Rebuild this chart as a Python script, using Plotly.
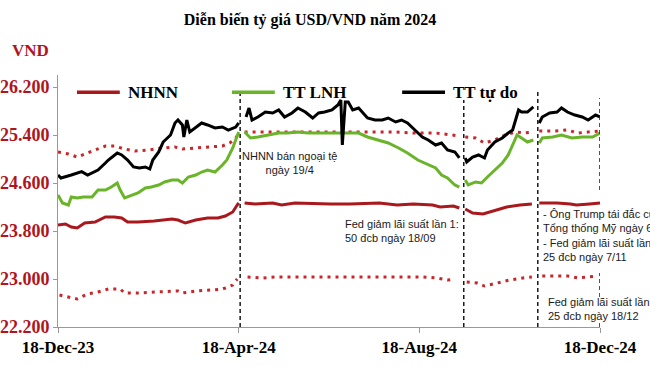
import plotly.graph_objects as go

# ---------------- data ----------------
title_text = "Diễn biến tỷ giá USD/VND năm 2024"
unit_label = "VND"
series_names = ["NHNN", "TT LNH", "TT tự do"]

x_tick_vals = ["2023-12-18", "2024-04-18", "2024-08-18", "2024-12-18"]
x_tick_text = ["18-Dec-23", "18-Apr-24", "18-Aug-24", "18-Dec-24"]
y_tick_vals = [22200, 23000, 23800, 24600, 25400, 26200]
y_tick_text = ["22.200", "23.000", "23.800", "24.600", "25.400", "26.200"]

# free market rate (TT tự do); None = break in the line
free_dates = [
    "2023-12-18", "2023-12-20", "2023-12-27", "2024-01-03", "2024-01-07", "2024-01-14", "2024-01-19",
    "2024-01-21", "2024-01-27", "2024-01-30", "2024-02-03", "2024-02-07", "2024-02-11", "2024-02-15",
    "2024-02-18", "2024-02-20", "2024-02-24", "2024-02-27", "2024-03-03", "2024-03-06", "2024-03-08",
    "2024-03-11", "2024-03-12", "2024-03-14", "2024-03-16", "2024-03-20", "2024-03-24", "2024-03-28",
    "2024-04-02", "2024-04-07", "2024-04-11", "2024-04-16", "2024-04-18",
    "2024-04-20",
    "2024-04-23", "2024-04-25", "2024-04-27", "2024-05-01", "2024-05-06", "2024-05-11", "2024-05-15",
    "2024-05-19", "2024-05-24", "2024-05-28", "2024-06-02", "2024-06-07", "2024-06-11", "2024-06-15",
    "2024-06-20", "2024-06-24", "2024-06-26", "2024-06-27", "2024-06-29", "2024-07-01", "2024-07-04",
    "2024-07-08", "2024-07-11", "2024-07-14", "2024-07-19", "2024-07-24", "2024-07-28", "2024-08-02",
    "2024-08-06", "2024-08-10", "2024-08-15", "2024-08-20", "2024-08-24", "2024-08-29", "2024-09-02",
    "2024-09-06", "2024-09-11", "2024-09-14",
    "2024-09-16",
    "2024-09-18", "2024-09-19", "2024-09-23", "2024-09-27", "2024-10-01", "2024-10-03", "2024-10-08",
    "2024-10-13", "2024-10-17", "2024-10-20", "2024-10-24", "2024-10-26", "2024-10-30", "2024-11-03",
    "2024-11-05",
    "2024-11-07", "2024-11-09", "2024-11-14", "2024-11-19", "2024-11-22", "2024-11-26", "2024-12-01",
    "2024-12-06", "2024-12-10", "2024-12-15", "2024-12-18",
]
free_vals = [
    24733, 24683, 24733, 24789, 24733, 24817, 24933, 24983, 25100, 25067,
    24983, 24867, 24850, 24867, 24833, 24983, 25117, 25283,
    25400, 25600, 25650, 25567, 25367, 25650, 25450, 25533, 25600, 25567,
    25517, 25533, 25483, 25533, 25600,
    None,
    25700, 25850, 25650, 25700, 25783, 25767, 25817, 25700, 25767, 25850,
    25783, 25683, 25767, 25783, 25817, 25900, 25983, 25233, 25950, 25950,
    25817, 25850, 25767, 25683, 25650, 25650, 25683, 25617, 25650, 25600,
    25483, 25367, 25317, 25233, 25267, 25150, 25117, 25017,
    None,
    25017, 24950, 25033, 25067, 25017, 25150, 25283, 25350, 25433, 25483,
    25817, 25783, 25783, 25867,
    None,
    25600, 25700, 25767, 25783, 25850, 25783, 25733, 25700, 25650, 25733, 25700,
]

# interbank rate (TT LNH)
lnh_dates = [
    "2023-12-18", "2023-12-21", "2023-12-25", "2023-12-27", "2023-12-31", "2024-01-04", "2024-01-10",
    "2024-01-14", "2024-01-19", "2024-01-23", "2024-01-27", "2024-01-29", "2024-02-01", "2024-02-06",
    "2024-02-10", "2024-02-15", "2024-02-19", "2024-02-24", "2024-02-28", "2024-03-04", "2024-03-08",
    "2024-03-11", "2024-03-15", "2024-03-20", "2024-03-24", "2024-03-28", "2024-04-02", "2024-04-07",
    "2024-04-10", "2024-04-14", "2024-04-16", "2024-04-18",
    "2024-04-20",
    "2024-04-22", "2024-04-26", "2024-05-01", "2024-05-08", "2024-05-15", "2024-05-21", "2024-05-28",
    "2024-06-04", "2024-06-11", "2024-06-17", "2024-06-24", "2024-07-01", "2024-07-08", "2024-07-14",
    "2024-07-21", "2024-07-28", "2024-08-04", "2024-08-10", "2024-08-17", "2024-08-24", "2024-08-29",
    "2024-09-02", "2024-09-06", "2024-09-11", "2024-09-14",
    "2024-09-16",
    "2024-09-18", "2024-09-20", "2024-09-25", "2024-09-29", "2024-10-03", "2024-10-08", "2024-10-13",
    "2024-10-17", "2024-10-20", "2024-10-23", "2024-10-26", "2024-10-30", "2024-11-03",
    "2024-11-05",
    "2024-11-07", "2024-11-09", "2024-11-16", "2024-11-22", "2024-11-29", "2024-12-06", "2024-12-13",
    "2024-12-18",
]
lnh_vals = [
    24400, 24267, 24233, 24367, 24350, 24367, 24367, 24483, 24483, 24533,
    24600, 24483, 24350, 24400, 24433, 24517, 24533, 24567, 24617, 24650,
    24650, 24600, 24700, 24733, 24783, 24817, 24783, 24900, 24983, 25183,
    25317, 25450,
    None,
    25450, 25350, 25367, 25400, 25433, 25433, 25450, 25433, 25433, 25433,
    25433, 25433, 25433, 25367, 25317, 25267, 25183, 25100, 24983, 24900,
    24850, 24733, 24683, 24567, 24533,
    None,
    24650, 24567, 24617, 24600, 24700, 24817, 24933, 25067, 25233, 25400,
    25350, 25283, 25317,
    None,
    25267, 25350, 25367, 25400, 25350, 25367, 25367, 25433,
]

# SBV central rate (NHNN)
central_dates = [
    "2023-12-18", "2023-12-23", "2023-12-27", "2023-12-31", "2024-01-05", "2024-01-12", "2024-01-19",
    "2024-01-25", "2024-01-30", "2024-02-03", "2024-02-10", "2024-02-21", "2024-03-04", "2024-03-08",
    "2024-03-13", "2024-03-20", "2024-03-28", "2024-04-04", "2024-04-09", "2024-04-14", "2024-04-17",
    "2024-04-18",
    "2024-04-20",
    "2024-04-22", "2024-04-29", "2024-05-11", "2024-05-17", "2024-05-26", "2024-06-13", "2024-06-19",
    "2024-07-02", "2024-07-22", "2024-08-03", "2024-08-14", "2024-08-27", "2024-09-01", "2024-09-10",
    "2024-09-14",
    "2024-09-16",
    "2024-09-18", "2024-09-23", "2024-09-30", "2024-10-07", "2024-10-16", "2024-10-25", "2024-11-02",
    "2024-11-05",
    "2024-11-07", "2024-11-19", "2024-11-28", "2024-12-02", "2024-12-11", "2024-12-18",
]
central_vals = [
    23900, 23917, 23867, 23850, 23933, 23950, 24033, 24033, 24017, 23950,
    23950, 23967, 24000, 23983, 23933, 23983, 24017, 24017, 24050, 24117,
    24233, 24267,
    None,
    24267, 24250, 24267, 24233, 24267, 24250, 24250, 24250, 24267, 24233,
    24250, 24233, 24200, 24217, 24183,
    None,
    24167, 24100, 24083, 24133, 24200, 24233, 24250,
    None,
    24267, 24267, 24250, 24233, 24250, 24267,
]

# upper band (ceiling) - dotted
ceiling_dates = [
    "2023-12-18", "2023-12-25", "2023-12-31", "2024-01-05", "2024-01-12", "2024-01-19", "2024-01-25",
    "2024-02-01", "2024-02-08", "2024-02-17", "2024-02-26", "2024-03-06", "2024-03-11", "2024-03-20",
    "2024-03-31", "2024-04-07", "2024-04-12", "2024-04-16", "2024-04-18",
    "2024-04-20",
    "2024-04-22", "2024-05-08", "2024-05-31", "2024-06-22", "2024-07-14", "2024-08-02", "2024-08-15",
    "2024-08-29", "2024-09-09", "2024-09-14",
    "2024-09-16",
    "2024-09-18", "2024-09-25", "2024-10-01", "2024-10-08", "2024-10-15", "2024-10-22", "2024-10-28",
    "2024-11-03",
    "2024-11-05",
    "2024-11-07", "2024-11-18", "2024-11-26", "2024-12-03", "2024-12-10", "2024-12-18",
]
ceiling_vals = [
    25117, 25083, 25033, 25083, 25150, 25217, 25217, 25167, 25133, 25150,
    25183, 25200, 25167, 25183, 25200, 25217, 25267, 25350, 25420,
    None,
    25450, 25450, 25450, 25450, 25450, 25450, 25433, 25433, 25400, 25383,
    None,
    25367, 25350, 25267, 25317, 25400, 25450, 25433, 25450,
    None,
    25467, 25467, 25483, 25433, 25450, 25467,
]

# lower band (floor) - dotted
floor_dates = [
    "2023-12-19", "2023-12-26", "2023-12-31", "2024-01-07", "2024-01-14", "2024-01-21", "2024-01-29",
    "2024-02-01", "2024-02-10", "2024-02-21", "2024-03-04", "2024-03-08", "2024-03-11", "2024-03-20",
    "2024-03-31", "2024-04-07", "2024-04-11", "2024-04-14", "2024-04-17",
    "2024-04-20",
    "2024-04-24", "2024-05-04", "2024-05-13", "2024-05-21", "2024-06-04", "2024-06-20", "2024-07-11",
    "2024-08-03", "2024-08-20", "2024-08-30", "2024-09-06", "2024-09-11",
    "2024-09-16",
    "2024-09-19", "2024-09-26", "2024-10-01", "2024-10-09", "2024-10-18", "2024-10-27", "2024-11-02",
    "2024-11-05",
    "2024-11-09", "2024-11-19", "2024-11-26", "2024-12-03", "2024-12-09", "2024-12-16",
]
floor_vals = [
    22733, 22700, 22667, 22750, 22783, 22833, 22833, 22767, 22767, 22783,
    22800, 22800, 22767, 22800, 22817, 22833, 22867, 22900, 23000,
    None,
    23033, 23017, 23033, 23033, 23033, 23033, 23033, 23033, 23033, 23017,
    22983, 23000,
    None,
    22950, 22933, 22883, 22933, 22983, 23017, 23033,
    None,
    23050, 23050, 23050, 23017, 23033, 23050,
]

# event markers (vertical dashed lines) and their visible spans
event_dates = ["2024-04-19", "2024-09-17", "2024-11-06", "2024-12-18"]
event_spans = [
    [(22200, 26100)],
    [(22200, 25983)],
    [(22200, 26117)],
    [(24483, 26017), (22700, 23100), (22200, 22283)],
]
event_notes = [
    "NHNN bán ngoại tệ<br>ngày 19/4",
    "Fed giảm lãi suất lần 1:<br>50 đcb ngày 18/09",
    "- Ông Trump tái đắc cử<br>Tổng thống Mỹ ngày 6/11<br>- Fed giảm lãi suất lần 2:<br>25 đcb ngày 7/11",
    "Fed giảm lãi suất lần 3:<br>25 đcb ngày 18/12",
]

for arr in [(free_dates, free_vals), (lnh_dates, lnh_vals), (central_dates, central_vals),
            (ceiling_dates, ceiling_vals), (floor_dates, floor_vals)]:
    assert len(arr[0]) == len(arr[1]), (len(arr[0]), len(arr[1]))

# ---------------- styling ----------------
RED = "#A8181D"
RED_DOT = "#C8262B"
LABEL_RED = "#B0151B"
GREEN = "#6AB42A"
BLACK = "#000000"
SERIF = "Liberation Serif"
SANS = "Liberation Sans"

fig = go.Figure()


def add_line(dates, vals, color, width, dash=None):
    fig.add_trace(go.Scatter(
        x=dates, y=vals, mode="lines", connectgaps=False, showlegend=False,
        hoverinfo="skip", line=dict(color=color, width=width, dash=dash, shape="linear"),
    ))


add_line(ceiling_dates, ceiling_vals, RED_DOT, 3, "3px,5px")
add_line(floor_dates, floor_vals, RED_DOT, 3, "3px,5px")
add_line(central_dates, central_vals, RED, 3)
add_line(lnh_dates, lnh_vals, GREEN, 3)
add_line(free_dates, free_vals, BLACK, 3)

shapes = []
for d, spans in zip(event_dates, event_spans):
    for y0, y1 in spans:
        shapes.append(dict(type="line", xref="x", yref="y", x0=d, x1=d, y0=y0, y1=y1,
                           line=dict(color="#1a1a1a", width=1.5, dash="4px,3px"), layer="above"))

# legend drawn manually (line sample + bold label)
legend_colors = [RED, GREEN, BLACK]
legend_x = [0.035, 0.321, 0.635]
legend_y = 0.932
annotations = []
for name, col, lx in zip(series_names, legend_colors, legend_x):
    shapes.append(dict(type="line", xref="paper", yref="paper", x0=lx, x1=lx + 0.079,
                       y0=legend_y, y1=legend_y, line=dict(color=col, width=3.5)))
    annotations.append(dict(xref="paper", yref="paper", x=lx + 0.09, y=legend_y,
                            xanchor="left", yanchor="middle", showarrow=False, text=name,
                            font=dict(family=SERIF, size=17, color="#000", weight="bold")))

note_pos = [
    dict(x=0.428, y=0.649, xanchor="center", align="center"),
    dict(x=0.525, y=0.379, xanchor="left", align="left"),
    dict(x=0.891, y=0.363, xanchor="left", align="left"),
    dict(x=0.900, y=0.071, xanchor="left", align="left"),
]
for txt, pos in zip(event_notes, note_pos):
    annotations.append(dict(xref="paper", yref="paper", x=pos["x"], y=pos["y"],
                            xanchor=pos["xanchor"], yanchor="middle", align=pos["align"],
                            showarrow=False, text=txt,
                            font=dict(family=SANS, size=11, color="#1a1a1a")))

annotations.append(dict(xref="paper", yref="paper", x=-0.088, y=1.098, xanchor="left",
                        yanchor="middle", showarrow=False, text=unit_label,
                        font=dict(family=SERIF, size=17, color=LABEL_RED, weight="bold")))

fig.update_layout(
    width=650, height=366,
    margin=dict(l=58, r=50, t=75, b=39, autoexpand=False),
    paper_bgcolor="white", plot_bgcolor="white",
    title=dict(text=title_text, x=0.477, xanchor="center", y=0.948, yanchor="middle",
               font=dict(family=SERIF, size=16, color="#000", weight="bold")),
    showlegend=False,
    shapes=shapes,
    annotations=annotations,
    xaxis=dict(
        type="date", range=["2023-12-18", "2024-12-18"], automargin=False,
        tickmode="array", tickvals=x_tick_vals, ticktext=x_tick_text,
        ticks="outside", ticklen=5, tickcolor="#999", tickwidth=1,
        showline=True, linecolor="#999", linewidth=1,
        showgrid=False, zeroline=False,
        tickfont=dict(family=SERIF, size=17, color="#000", weight="bold"),
    ),
    yaxis=dict(
        range=[22200, 26400], automargin=False,
        tickmode="array", tickvals=y_tick_vals, ticktext=y_tick_text,
        ticks="outside", ticklen=4, tickcolor="#999", tickwidth=1,
        showline=True, linecolor="#999", linewidth=1,
        showgrid=False, zeroline=False,
        tickfont=dict(family=SERIF, size=18, color=LABEL_RED, weight="bold"),
    ),
)

fig.write_html(
    "out.html",
    config={"displayModeBar": False, "staticPlot": True},
    post_script="document.body.style.margin='0';document.body.style.overflow='hidden';",
)
